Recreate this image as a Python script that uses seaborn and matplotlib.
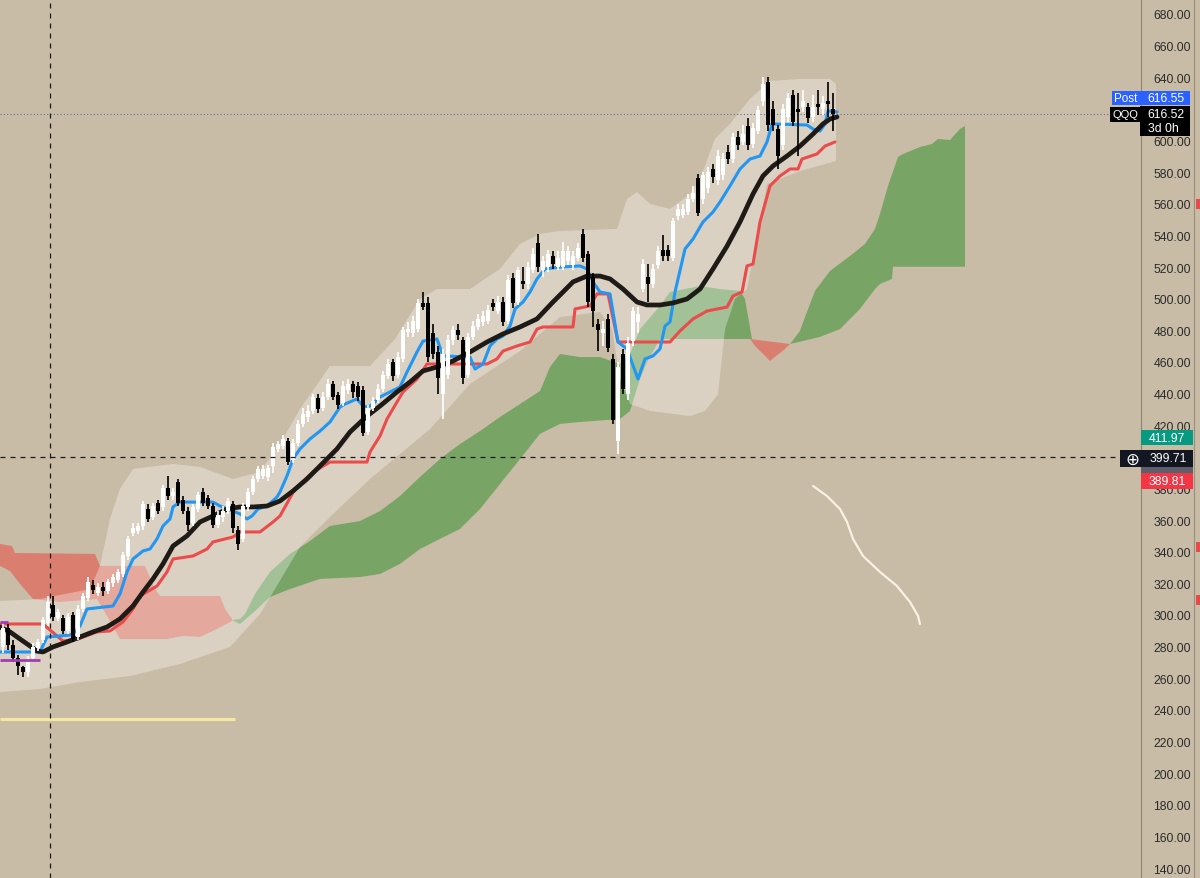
import numpy as np
import matplotlib.pyplot as plt
import seaborn as sns
from matplotlib.patches import Rectangle

# weekly QQQ candles, bar index 0..166
opens = [280, 292, 281, 273, 267, 264, 273, 279, 284, 295, 306, 298, 298, 290, 300, 286, 304, 311, 319, 314,
         318, 315, 320, 322, 326, 337, 352, 353, 356, 367, 362, 371, 368, 380, 375, 384, 373, 366, 358, 367,
         378, 374, 369, 357, 362, 366, 370, 354, 348, 368, 378, 386, 388, 387, 394, 405, 407, 410, 398, 409,
         421, 425, 429, 437, 431, 438, 446, 439, 434, 442, 446, 445, 442, 416, 431, 436, 443, 451, 460, 452,
         462, 479, 478, 481, 497, 497, 478, 466, 440, 452, 474, 480, 474, 452, 476, 482, 485, 486, 497, 492,
         498, 486, 513, 498, 511, 509, 518, 535, 518, 520, 527, 520, 520, 524, 521, 526, 541, 528, 514, 484,
         478, 487, 462, 410, 465, 440, 473, 485, 506, 514, 509, 521, 531, 531, 526, 552, 553, 555, 563, 576,
         563, 570, 582, 575, 578, 593, 588, 602, 599, 609, 598, 606, 625, 637, 620, 607, 597, 615, 629, 620,
         621, 621, 615, 623, 620, 625, 620]
highs = [296, 294, 284, 275, 268, 274, 282, 285, 299, 312, 312, 304, 300, 301, 302, 306, 314, 324, 322, 320,
         321, 323, 326, 329, 340, 350, 358, 358, 372, 370, 371, 373, 382, 388, 380, 386, 375, 368, 370, 378,
         380, 376, 371, 366, 369, 374, 372, 356, 371, 380, 388, 394, 395, 395, 409, 410, 414, 412, 411, 423,
         431, 433, 440, 440, 441, 449, 448, 441, 448, 449, 448, 447, 445, 433, 438, 446, 454, 462, 462, 466,
         482, 485, 489, 500, 504, 501, 484, 470, 468, 477, 483, 484, 476, 478, 486, 490, 492, 496, 500, 502,
         501, 515, 516, 520, 520, 523, 532, 541, 527, 531, 530, 530, 536, 533, 530, 535, 544, 530, 516, 487,
         486, 490, 465, 460, 468, 476, 495, 495, 525, 522, 522, 533, 540, 534, 551, 560, 560, 566, 571, 579,
         580, 583, 585, 594, 592, 597, 605, 606, 610, 614, 611, 622, 640, 640, 625, 610, 623, 630, 632, 630,
         632, 624, 629, 632, 628, 637, 630]
lows = [276, 278, 270, 262, 261, 261, 271, 277, 282, 293, 296, 296, 288, 288, 283, 284, 302, 309, 313, 312,
        312, 313, 318, 320, 324, 335, 350, 351, 354, 359, 360, 364, 366, 373, 373, 369, 364, 353, 356, 365,
        369, 367, 355, 355, 359, 364, 352, 341, 346, 366, 376, 384, 386, 385, 390, 403, 405, 395, 396, 407,
        419, 422, 427, 428, 429, 436, 436, 430, 432, 440, 437, 435, 413, 414, 429, 434, 441, 449, 448, 450,
        460, 476, 476, 479, 493, 460, 462, 440, 424, 449, 471, 474, 446, 450, 474, 480, 483, 484, 492, 490,
        483, 484, 494, 496, 506, 506, 516, 517, 514, 517, 519, 518, 518, 521, 518, 524, 523, 495, 482, 467,
        470, 466, 421, 402, 440, 436, 470, 478, 504, 498, 507, 519, 524, 524, 524, 550, 551, 553, 561, 552,
        560, 567, 573, 572, 575, 585, 586, 594, 597, 594, 595, 604, 622, 606, 606, 582, 594, 612, 609, 590,
        618, 611, 612, 616, 616, 615, 606]
closes = [292, 281, 273, 268, 264, 272, 280, 283, 297, 308, 299, 302, 290, 299, 285, 304, 312, 321, 316, 318,
          315, 321, 324, 327, 338, 348, 355, 356, 370, 361, 369, 366, 380, 375, 378, 371, 366, 357, 368, 376,
          371, 369, 357, 363, 366, 372, 355, 345, 369, 378, 386, 392, 392, 393, 406, 408, 411, 397, 409, 421,
          427, 429, 438, 430, 438, 446, 438, 433, 445, 446, 441, 438, 415, 431, 435, 443, 452, 459, 451, 463,
          480, 481, 486, 497, 495, 463, 465, 450, 465, 474, 480, 477, 450, 476, 483, 487, 489, 493, 495, 498,
          485, 512, 497, 518, 509, 520, 528, 520, 524, 528, 522, 526, 530, 530, 527, 532, 526, 498, 492, 480,
          481, 469, 423, 457, 443, 472, 492, 490, 522, 509, 519, 530, 527, 527, 549, 557, 557, 563, 567, 554,
          578, 580, 577, 590, 588, 588, 602, 597, 604, 597, 608, 619, 636, 610, 610, 590, 620, 627, 612, 618,
          625, 614, 621, 621, 624, 623, 616.5]

# conversion line (blue), base line (red), moving average (black)
tenkan_x = [-0.6, 7.4, 8.8, 13.4, 14.4, 15.4, 16.8, 22.0, 23.4, 24.8, 26.0, 28.0, 29.4, 30.8, 32.0, 33.4, 34.0, 35.4,
            42.0, 43.4, 47.4, 48.8, 49.8, 51.0, 52.8, 54.8, 55.4, 56.8, 58.0, 59.4, 61.4, 63.4, 65.4, 67.4, 68.4,
            70.8, 72.0, 73.0, 74.0, 75.4, 79.4, 80.8, 82.8, 84.0, 86.8, 88.0, 93.4, 94.4, 96.0, 97.4, 98.8, 100.0,
            101.4, 102.4, 104.0, 105.4, 106.8, 108.4, 111.4, 115.4, 116.8, 118.0, 119.4, 121.4, 123.0, 124.8,
            127.0, 128.4, 130.0, 131.4, 132.4, 133.4, 134.4, 136.4, 138.0, 140.0, 142.0, 143.4, 145.4, 147.4,
            149.4, 151.4, 152.8, 153.8, 160.8, 162.0, 163.4, 164.4, 165.0, 166.8]
tenkan = [276.6, 276.6, 286.1, 287.3, 289.3, 293.0, 303.8, 305.7, 313.3, 327.2, 335.4, 340.5, 341.7, 348.1, 356.3,
          360.7, 368.3, 371.4, 371.4, 368.9, 363.9, 360.7, 362.6, 367.0, 368.9, 374.6, 377.8, 387.9, 398.6, 405.0,
          411.3, 416.3, 422.0, 431.5, 433.4, 436.6, 432.1, 431.5, 433.4, 437.8, 444.2, 453.6, 466.3, 473.2, 474.5,
          463.8, 463.1, 455.5, 458.7, 470.1, 474.5, 476.4, 482.7, 493.5, 497.9, 504.2, 512.5, 518.8, 520.0, 520.7,
          518.8, 510.6, 504.2, 503.0, 472.6, 468.2, 449.2, 461.9, 463.8, 468.2, 482.7, 485.3, 504.2, 531.4, 537.7,
          548.5, 554.8, 561.1, 571.3, 582.0, 588.3, 590.2, 599.1, 610.5, 609.8, 607.3, 606.0, 610.5, 618.7, 618.1]
kijun_x = [-0.6, 8.0, 12.0, 15.0, 18.8, 21.4, 22.8, 24.0, 26.0, 27.4, 30.8, 32.8, 34.0, 38.0, 40.8, 42.0, 46.0, 47.4,
           51.4, 54.0, 55.4, 58.4, 62.0, 65.4, 72.8, 73.4, 75.4, 76.8, 78.8, 80.0, 82.8, 84.8, 96.8, 98.8, 100.0,
           102.8, 105.4, 106.8, 108.0, 114.0, 114.4, 117.4, 118.8, 121.0, 123.0, 133.4, 135.4, 138.0, 140.8, 144.8,
           146.0, 147.8, 148.8, 150.0, 151.4, 153.4, 155.4, 157.4, 159.0, 159.8, 162.8, 164.4, 166.4]
kijun = [294.3, 294.3, 283.5, 284.8, 289.3, 289.9, 293.0, 295.6, 303.8, 312.0, 318.3, 327.2, 335.4, 337.3, 341.7,
         346.2, 349.3, 352.5, 352.5, 358.8, 362.6, 379.7, 390.4, 396.7, 396.7, 403.1, 413.2, 423.9, 434.7, 441.0,
         449.2, 458.7, 458.7, 461.9, 466.9, 470.1, 472.6, 480.8, 482.1, 482.1, 493.5, 495.4, 503.0, 503.0, 472.6,
         472.6, 479.6, 487.2, 492.2, 494.7, 501.7, 504.2, 520.7, 521.9, 548.5, 571.3, 577.6, 582.0, 582.0, 588.3,
         591.5, 596.5, 599.1]
ma_x = [-0.6, 1.4, 3.4, 5.4, 6.8, 8.0, 10.0, 12.8, 15.4, 18.0, 20.8, 23.4, 26.0, 28.0, 30.0, 32.0, 34.0, 36.8, 39.4,
        42.0, 44.8, 47.4, 50.0, 52.8, 55.4, 58.0, 60.8, 63.4, 66.8, 69.4, 72.8, 75.4, 78.8, 81.4, 84.0, 86.8, 90.0,
        93.4, 96.8, 100.0, 103.4, 106.8, 110.0, 112.0, 114.0, 116.8, 119.4, 121.4, 124.0, 126.8, 128.8, 131.4,
        134.0, 136.8, 139.4, 142.0, 144.8, 147.4, 150.0, 152.0, 154.0, 156.8, 159.4, 162.0, 164.0, 165.4, 166.8]
ma = [292.4, 289.3, 284.8, 280.4, 277.2, 276.6, 279.8, 282.9, 286.1, 289.3, 292.4, 297.5, 305.7, 314.5, 322.8,
      332.3, 343.6, 350.0, 358.8, 362.6, 367.0, 368.3, 368.3, 368.9, 372.1, 378.4, 386.0, 394.2, 405.0, 415.7,
      425.8, 432.1, 441.0, 447.3, 454.3, 456.8, 460.6, 466.3, 472.6, 477.7, 482.1, 487.2, 497.9, 504.2, 510.6,
      514.3, 514.3, 512.5, 506.1, 497.9, 496.0, 496.0, 497.3, 499.8, 506.1, 518.8, 533.2, 548.5, 566.2, 577.6,
      583.9, 590.2, 596.5, 604.1, 610.5, 613.6, 614.9]

# light price envelope
band_up_x = [-0.6, 7.4, 17.4, 19.4, 21.4, 23.4, 26.0, 34.0, 39.4, 46.0, 51.4, 55.4, 59.4, 65.4, 73.4, 78.4, 83.4,
             86.8, 93.4, 99.4, 103.4, 107.4, 111.4, 122.8, 124.8, 126.8, 129.4, 133.4, 137.4, 139.4, 142.4, 145.4,
             149.4, 153.4, 159.4, 165.4, 166.6]
band_up = [308.8, 310.1, 316.4, 331.0, 360.7, 379.7, 392.3, 395.5, 393.6, 386.0, 390.4, 408.1, 430.3, 457.4, 457.4,
           474.5, 499.8, 506.1, 506.1, 518.8, 534.6, 540.9, 542.8, 544.1, 563.0, 567.5, 559.9, 556.7, 566.2, 575.7,
           601.0, 610.5, 626.3, 637.7, 638.9, 638.9, 635.7]
band_lo_x = [-0.6, 7.4, 15.4, 25.4, 35.4, 45.4, 51.4, 59.4, 65.4, 73.4, 79.4, 85.4, 93.4, 103.4, 111.4, 119.4, 121.8,
             123.4, 125.4, 129.4, 137.4, 140.4, 143.0, 144.4, 146.4, 148.8, 150.8, 152.8, 159.4, 166.6]
band_lo = [251.3, 253.2, 257.6, 261.4, 269.0, 279.8, 300.6, 343.0, 362.0, 386.0, 401.8, 417.6, 446.1, 466.9, 488.4,
           491.6, 480.8, 449.2, 433.4, 429.0, 425.8, 429.0, 439.7, 480.8, 499.8, 506.1, 537.7, 572.5, 580.7, 587.1]

# cloud pieces (upper edge / lower edge)
rc1_top_x = [-0.6, 1.8, 2.4, 18.4, 19.4, 28.4, 30.4, 31.4, 43.4, 44.4, 45.8]
rc1_top = [344.9, 343.6, 339.2, 338.6, 331.0, 331.0, 316.4, 312.0, 312.0, 303.8, 297.5]
rc1_bot_x = [-0.6, 1.4, 3.4, 6.0, 11.4, 18.8, 22.0, 23.4, 32.8, 36.0, 39.4, 42.8, 45.8]
rc1_bot = [331.0, 327.8, 319.6, 310.1, 308.2, 310.1, 293.0, 284.8, 284.8, 286.7, 286.1, 291.1, 296.2]
gc1_top_x = [45.8, 47.4, 48.4, 50.4, 53.4, 57.4, 61.4, 65.4, 71.4, 75.4, 79.4, 83.4, 87.4, 91.4, 95.4, 99.4, 103.4,
             107.4, 109.4, 111.4, 115.4, 119.4, 123.4, 125.4, 127.4, 131.4, 133.4, 139.4, 143.4, 147.4, 148.4, 149.8]
gc1_top = [296.8, 297.5, 300.6, 313.3, 327.2, 338.6, 346.8, 356.3, 359.4, 365.7, 375.2, 387.3, 398.6, 408.1, 416.3,
           425.2, 433.4, 441.6, 456.8, 465.0, 463.1, 463.1, 458.7, 465.0, 480.8, 495.4, 504.2, 508.0, 506.1, 504.9,
           499.8, 474.5]
gc1_bot_x = [45.8, 47.4, 50.4, 53.4, 57.4, 63.4, 71.4, 75.4, 79.4, 83.4, 87.4, 91.4, 95.4, 99.4, 103.4, 107.4, 111.4,
             115.4, 123.4, 125.4, 127.4, 128.8, 131.4, 139.4, 149.8]
gc1_bot = [296.8, 294.3, 302.5, 311.4, 316.4, 322.8, 324.0, 325.9, 332.3, 341.7, 348.1, 354.4, 367.0, 382.8, 398.6,
           414.5, 420.8, 422.0, 423.9, 429.0, 449.2, 459.9, 474.5, 474.5, 474.5]
rc2_top_x = [149.4, 157.4]
rc2_top = [474.5, 471.3]
rc2_bot_x = [149.4, 150.4, 153.4, 156.4, 157.4]
rc2_bot = [474.5, 470.1, 460.6, 468.2, 471.3]
gc2_top_x = [157.4, 159.4, 160.4, 162.4, 165.4, 169.4, 172.4, 174.4, 175.4, 177.0, 179.0, 180.0, 183.4, 185.8,
             187.0, 189.4, 191.4, 192.4]
gc2_top = [471.3, 479.6, 488.4, 504.9, 517.5, 527.0, 534.6, 544.1, 553.6, 571.3, 589.6, 591.5, 595.9, 597.8,
           601.0, 600.3, 607.3, 609.2]
gc2_bot_x = [157.4, 163.4, 167.4, 171.4, 174.4, 175.4, 177.8, 178.0, 192.4]
gc2_bot = [471.3, 475.8, 480.8, 493.5, 506.1, 509.3, 512.5, 520.2, 520.2]

# drawings
sketch_x = [162.0, 164.8, 167.4, 168.8, 170.0, 172.0, 175.4, 178.8, 181.4, 183.0, 183.4]
sketch_y = [381.6, 375.2, 367.0, 358.8, 348.1, 337.3, 327.2, 318.3, 308.2, 299.4, 294.3]
post_price = 616.55
cross_price = 399.71
cross_bar = 9.4
yellow_level = 234.2
purple_levels = [295.6, 271.5]
purple_ends = [1.0, 7.4]
hidden_ticks = [400, 620]  # covered by the price tags

W, H = 1200, 879
bg = '#C9BCA6'

sns.set_theme(style='white')
plt.rcParams['font.family'] = ['Liberation Sans', 'DejaVu Sans']

fig = plt.figure(figsize=(W / 100, H / 100), dpi=100, facecolor=bg)
ax = fig.add_axes([0, 0, 1141 / W, 1])
ax.set_facecolor(bg)
ax.set_xlim(-0.6, 227.6)
ax.set_ylim(133.69, 689.48)


def poly(tx, ty, bx, by, color, alpha=1.0, z=1):
    ax.fill(list(tx) + list(bx)[::-1], list(ty) + list(by)[::-1], color=color, alpha=alpha, lw=0, zorder=z)


red_c, green_c = '#DA7F70', '#78A566'
poly(rc1_top_x, rc1_top, rc1_bot_x, rc1_bot, red_c)
poly(gc1_top_x, gc1_top, gc1_bot_x, gc1_bot, green_c)
poly(rc2_top_x, rc2_top, rc2_bot_x, rc2_bot, red_c)
poly(gc2_top_x, gc2_top, gc2_bot_x, gc2_bot, green_c)
poly(band_up_x, band_up, band_lo_x, band_lo, 'white', alpha=0.32, z=2)

# level lines and drawings
ax.hlines(yellow_level, -0.6, 46.4, color='#F4E8A2', lw=2.2, zorder=3)
for lvl, end in zip(purple_levels, purple_ends):
    ax.hlines(lvl, -0.6, end, color='#A23CB4', lw=2.0, zorder=6)
ax.axhline(post_price, color='#5E6E9E', lw=0.8, ls=(0, (1, 2)), zorder=3)

sns.lineplot(x=kijun_x, y=kijun, ax=ax, color='#EC4B4B', lw=2.2, estimator=None, sort=False, zorder=4)
sns.lineplot(x=tenkan_x, y=tenkan, ax=ax, color='#2196F3', lw=2.2, estimator=None, sort=False, zorder=4)
sns.lineplot(x=ma_x, y=ma, ax=ax, color='#1E1B17', lw=3.4, estimator=None, sort=False, zorder=4)
sns.lineplot(x=sketch_x, y=sketch_y, ax=ax, color='#F7F2E4', lw=1.6, estimator=None, sort=False, zorder=4)

# candles
idx = np.arange(len(closes))
o, h, l, c = map(np.array, (opens, highs, lows, closes))
up = c >= o
cols = np.where(up, '#FFFFFF', '#000000')
ax.vlines(idx, l, h, colors=cols, lw=1.2, zorder=5)
body = np.maximum(np.abs(c - o), 1.0)
ax.bar(idx, body, bottom=np.minimum(o, c), width=0.74, color=cols, lw=0, zorder=5)

# crosshair
ax.axhline(cross_price, color='#1A1A1A', lw=0.9, ls=(0, (4, 4)), zorder=7)
ax.axvline(cross_bar, color='#1A1A1A', lw=0.9, ls=(0, (4, 4)), zorder=7)

# price axis
ticks = np.arange(140, 700, 20)
ax.yaxis.tick_right()
ax.set_yticks(ticks)
ax.set_yticklabels(['' if t in hidden_ticks else f'{t:.2f}' for t in ticks])
ax.set_xticks([])
ax.tick_params(axis='y', length=0, pad=9, labelsize=8.8, labelcolor='#2B2B2B')
for s in ['top', 'left', 'bottom']:
    ax.spines[s].set_visible(False)
ax.spines['right'].set_color('#8E8474')
ax.spines['right'].set_linewidth(0.8)


def box(x0, y0, x1, y1, color):
    fig.add_artist(Rectangle((x0 / W, 1 - y1 / H), (x1 - x0) / W, (y1 - y0) / H,
                             transform=fig.transFigure, color=color, lw=0, zorder=20))


def label(x, y, s, size=8.8, **kw):
    fig.text(x / W, 1 - y / H, s, ha='center', va='center', color='white', fontsize=size, zorder=21, **kw)


box(1112, 92, 1190, 106, '#2962FF')
label(1126, 99.5, 'Post', size=8.4)
label(1166, 99.5, f'{post_price:.2f}')
box(1110, 108, 1140, 123, '#000000')
label(1125.5, 115.5, 'QQQ', size=8.0)
box(1140, 107, 1190, 137, '#000000')
label(1166, 115, '616.52')
label(1163, 129, '3d 0h')
box(1141, 431, 1193, 446, '#089981')
label(1167, 438.5, '411.97')
box(1141, 466, 1193, 476, '#5D606B')
box(1120, 451, 1193, 468, '#131722')
label(1132, 459.5, '\u2295', size=12, family=['DejaVu Sans'])
label(1168, 459.5, f'{cross_price:.2f}')
box(1141, 474, 1193, 490, '#F23645')
label(1167, 482, '389.81')

# edge of the neighbouring pane
fig.add_artist(plt.Line2D([1193.5 / W, 1193.5 / W], [0, 1], transform=fig.transFigure, color='#9A8F7D', lw=0.8))
for y in [205, 548, 601]:
    box(1196, y - 5, 1200, y + 5, '#E8494A')

fig.savefig('out.png', dpi=100, facecolor=bg)
